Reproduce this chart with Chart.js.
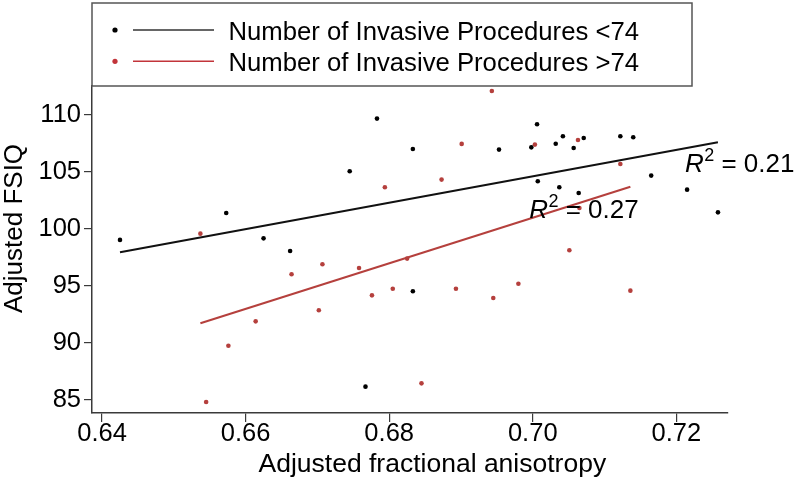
<!DOCTYPE html>
<html>
<head>
<meta charset="utf-8">
<script src="https://cdn.jsdelivr.net/npm/chart.js@4.4.1/dist/chart.umd.min.js"></script>
<style>
  html, body { margin: 0; padding: 0; background: #ffffff; }
  #wrap { width: 796px; height: 481px; position: relative; }
</style>
</head>
<body>
<div id="wrap"><canvas id="c" width="796" height="481"></canvas></div>
<script>
// ---- data ----
const seriesNames = ['Number of Invasive Procedures <74', 'Number of Invasive Procedures >74'];
const xTicks = [0.64, 0.66, 0.68, 0.70, 0.72];
const yTicks = [85, 90, 95, 100, 105, 110];
const xTitle = 'Adjusted fractional anisotropy';
const yTitle = 'Adjusted FSIQ';

// <74 group (black)
const lowX = [0.6425, 0.6573, 0.6625, 0.6662, 0.6745, 0.6783, 0.6833, 0.6953, 0.7006, 0.6998,
              0.7032, 0.7042, 0.7057, 0.7071, 0.7122, 0.7140, 0.7007, 0.7037, 0.7064, 0.7165,
              0.7215, 0.7258, 0.6833, 0.6767];
const lowY = [99.04, 101.4, 99.18, 98.07, 105.06, 109.68, 107.02, 106.96, 109.18, 107.16,
              107.48, 108.13, 107.1, 107.98, 108.13, 108.04, 104.18, 103.66, 103.16, 104.68,
              103.45, 101.46, 94.54, 86.17];
// >74 group (red)
const highX = [0.6537, 0.6545, 0.6576, 0.6614, 0.6664, 0.6702, 0.6707, 0.6758, 0.6776, 0.6794,
               0.6805, 0.6825, 0.6845, 0.6873, 0.6893, 0.6901, 0.6943, 0.6945, 0.6980, 0.7003,
               0.7063, 0.7051, 0.7065, 0.7122, 0.7136];
const highY = [99.59, 84.82, 89.76, 91.9, 96.03, 92.87, 96.9, 96.58, 94.18, 103.66,
               94.76, 97.4, 86.46, 104.33, 94.76, 107.46, 112.1, 93.95, 95.2, 107.4,
               107.81, 98.13, 101.84, 105.7, 94.59];

// fit lines (end points)
const lowFitX = [0.6425, 0.7258];
const lowFitY = [97.96, 107.6];
const highFitX = [0.6537, 0.7136];
const highFitY = [91.73, 103.71];

// R squared annotations
const r2Values = ['0.21', '0.27'];
const r2X = [0.7212, 0.6995];
const r2Y = [105.0, 100.94];

// ---- styles ----
const FONT = "'Liberation Sans', Arial, Helvetica, sans-serif";
const BLACK = '#000000';
const RED = '#b5403d';
const RED_LEG = '#c2343a';
const AXIS = '#3a3a3a';

const pts = (xs, ys) => xs.map((x, i) => ({ x: x, y: ys[i] }));

const overlay = {
  id: 'overlay',
  afterDraw(chart) {
    const ctx = chart.ctx;
    const ca = chart.chartArea;
    const xs = chart.scales.x, ys = chart.scales.y;
    ctx.save();
    // legend box
    const boxL = ca.left, boxT = 3, boxR = 692, boxB = ca.top;
    ctx.strokeStyle = '#555555';
    ctx.lineWidth = 1.5;
    ctx.strokeRect(boxL, boxT, boxR - boxL, boxB - boxT);
    const rows = [30, 61.3];
    const dotCols = [BLACK, RED_LEG];
    const lineCols = ['#333333', RED_LEG];
    for (let i = 0; i < 2; i++) {
      const yy = rows[i];
      ctx.fillStyle = dotCols[i];
      ctx.beginPath();
      ctx.arc(115, yy, 2.6, 0, Math.PI * 2);
      ctx.fill();
      ctx.strokeStyle = lineCols[i];
      ctx.lineWidth = 1.5;
      ctx.beginPath();
      ctx.moveTo(133, yy);
      ctx.lineTo(214, yy);
      ctx.stroke();
      ctx.fillStyle = '#000';
      ctx.font = '25.7px ' + FONT;
      ctx.textAlign = 'left';
      ctx.textBaseline = 'alphabetic';
      ctx.fillText(seriesNames[i], 228.5, yy + 9.5);
    }
    // R^2 labels
    for (let i = 0; i < r2Values.length; i++) {
      const px = xs.getPixelForValue(r2X[i]);
      const py = ys.getPixelForValue(r2Y[i]);
      ctx.fillStyle = '#000';
      ctx.textAlign = 'left';
      ctx.textBaseline = 'alphabetic';
      ctx.font = 'italic 26px ' + FONT;
      ctx.fillText('R', px, py);
      let w = ctx.measureText('R').width;
      ctx.font = '18px ' + FONT;
      ctx.fillText('2', px + w + 0.5, py - 11);
      w += ctx.measureText('2').width + 0.5;
      ctx.font = '26px ' + FONT;
      ctx.fillText(' = ' + r2Values[i], px + w, py);
    }
    // axis titles
    ctx.fillStyle = '#000';
    ctx.font = '26.5px ' + FONT;
    ctx.textAlign = 'left';
    ctx.textBaseline = 'alphabetic';
    ctx.fillText(xTitle, 258.5, 471.5);
    ctx.translate(21.5, 313);
    ctx.rotate(-Math.PI / 2);
    ctx.font = '26px ' + FONT;
    ctx.fillText(yTitle, 0, 0);
    ctx.restore();
  }
};

new Chart(document.getElementById('c'), {
  type: 'scatter',
  data: {
    datasets: [
      { label: seriesNames[0], data: pts(lowX, lowY), backgroundColor: BLACK, borderColor: BLACK,
        pointRadius: 2.3, pointBorderWidth: 0, order: 2 },
      { label: seriesNames[1], data: pts(highX, highY), backgroundColor: RED, borderColor: RED,
        pointRadius: 2.3, pointBorderWidth: 0, order: 2 },
      { type: 'line', label: 'fit <74', data: pts(lowFitX, lowFitY), borderColor: '#111111',
        borderWidth: 2, pointRadius: 0, fill: false, showLine: true, order: 1 },
      { type: 'line', label: 'fit >74', data: pts(highFitX, highFitY), borderColor: RED,
        borderWidth: 2, pointRadius: 0, fill: false, showLine: true, order: 1 }
    ]
  },
  options: {
    responsive: false,
    animation: false,
    layout: { padding: { top: 86, right: 68, bottom: 0, left: 0 } },
    plugins: { legend: { display: false }, tooltip: { enabled: false } },
    scales: {
      x: {
        type: 'linear',
        min: 0.6386, max: 0.7272,
        afterFit: s => { s.height = 68; },
        afterBuildTicks: s => { s.ticks = xTicks.map(v => ({ value: v })); },
        border: { display: true, color: AXIS, width: 1.5 },
        grid: { drawOnChartArea: false, drawTicks: true, tickLength: 9, color: AXIS, lineWidth: 1.2 },
        ticks: {
          color: '#000', padding: -3, maxRotation: 0, autoSkip: false,
          font: { family: FONT, size: 25.5 },
          callback: v => Number(v).toFixed(2)
        }
      },
      y: {
        type: 'linear',
        min: 83.86, max: 112.54,
        afterFit: s => { s.width = 92; },
        afterBuildTicks: s => { s.ticks = yTicks.map(v => ({ value: v })); },
        border: { display: true, color: AXIS, width: 1.5 },
        grid: { drawOnChartArea: false, drawTicks: true, tickLength: 8, color: AXIS, lineWidth: 1.2 },
        ticks: {
          color: '#000', padding: 3, autoSkip: false,
          font: { family: FONT, size: 25.5 },
          callback: v => String(v)
        }
      }
    }
  },
  plugins: [overlay]
});
</script>
</body>
</html>
